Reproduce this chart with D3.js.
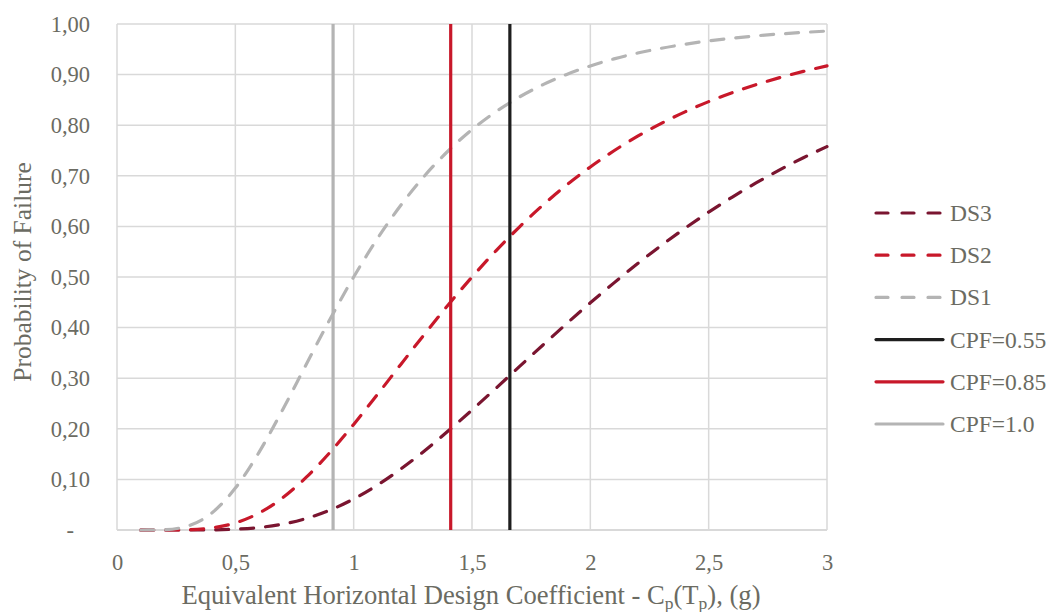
<!DOCTYPE html>
<html><head><meta charset="utf-8">
<script src="https://cdn.jsdelivr.net/npm/d3@7/dist/d3.min.js"></script>
<style>body{margin:0;background:#fff}svg{display:block}</style>
</head><body><svg id="c" width="1049" height="612"></svg>
<script>
const xValues = [0.1,0.2,0.3,0.4,0.5,0.6,0.7,0.8,0.9,1.0,1.1,1.2,1.3,1.4,1.5,1.6,1.7,1.8,1.9,2.0,2.1,2.2,2.3,2.4,2.5,2.6,2.7,2.8,2.9,3.0];
const ds3 = [0,0,0,0.0003,0.0016,0.0049,0.0116,0.0229,0.0394,0.0614,0.0887,0.1208,0.1567,0.1960,0.2372,0.2797,0.3228,0.3657,0.4079,0.4490,0.4884,0.5265,0.5624,0.5964,0.6282,0.6580,0.6859,0.7117,0.7357,0.7578];
const ds2 = [0,0,0.0006,0.0041,0.0140,0.0334,0.0637,0.1044,0.1535,0.2087,0.2676,0.3277,0.3874,0.4451,0.5,0.5513,0.5987,0.6423,0.6819,0.7174,0.7495,0.7782,0.8037,0.8264,0.8466,0.8643,0.8801,0.8940,0.9063,0.9172];
const ds1 = [0,0.0006,0.0080,0.0334,0.0828,0.1535,0.2378,0.3277,0.4165,0.5,0.5756,0.6423,0.7002,0.7495,0.7913,0.8264,0.8557,0.8801,0.9004,0.9172,0.9311,0.9426,0.9521,0.9600,0.9666,0.9720,0.9765,0.9803,0.9834,0.9860];
const cpfNames = ["CPF=0.55","CPF=0.85","CPF=1.0"];
const cpfX = [1.66,1.41,0.913];
const xTicks = [0,0.5,1,1.5,2,2.5,3];
const xTickLabels = ["0","0,5","1","1,5","2","2,5","3"];
const yTicks = [0,0.1,0.2,0.3,0.4,0.5,0.6,0.7,0.8,0.9,1.0];
const yTickLabels = ["-","0,10","0,20","0,30","0,40","0,50","0,60","0,70","0,80","0,90","1,00"];

const FONT = "Liberation Serif";
const TXT = "#6b6b62";
const svg = d3.select("#c");
const x = d3.scaleLinear().domain([0,3]).range([117,827]);
const y = d3.scaleLinear().domain([0,1]).range([530,24]);
const grid = "#d9d9d9";

svg.append("g").selectAll("line").data(yTicks).join("line")
  .attr("x1",x(0)).attr("x2",x(3)).attr("y1",d=>y(d)).attr("y2",d=>y(d))
  .attr("stroke",grid).attr("stroke-width",d=>d===0?2:1.5);
svg.append("g").selectAll("line").data(xTicks).join("line")
  .attr("y1",y(0)).attr("y2",y(1)).attr("x1",d=>x(d)).attr("x2",d=>x(d))
  .attr("stroke",grid).attr("stroke-width",1.5);

const xAxis = d3.axisBottom(x).tickValues(xTicks).tickFormat((d,i)=>xTickLabels[i]).tickSize(0).tickPadding(24);
const gx = svg.append("g").attr("transform",`translate(0,${y(0)})`).call(xAxis)
  .attr("font-family",FONT).attr("font-size",22.5);
gx.select(".domain").remove();
gx.selectAll("text").attr("fill",TXT);
const yAxis = d3.axisLeft(y).tickValues(yTicks).tickFormat((d,i)=>yTickLabels[i]).tickSize(0).tickPadding(27);
const gy = svg.append("g").attr("transform",`translate(${x(0)},0)`).call(yAxis)
  .attr("font-family",FONT).attr("font-size",22.5);
gy.select(".domain").remove();
gy.selectAll("text").attr("fill",TXT);
gy.selectAll(".tick").filter(d=>d===0).select("text").attr("dx",-16);

const series = [
  {name:"DS3", vals:ds3, color:"#7a1530"},
  {name:"DS2", vals:ds2, color:"#c8182a"},
  {name:"DS1", vals:ds1, color:"#b4b4b4"}
];
const line = d3.line().x(d=>x(d[0])).y(d=>y(d[1])).curve(d3.curveMonotoneX);
series.forEach(s=>{
  svg.append("path").datum(xValues.map((v,i)=>[v,s.vals[i]]))
    .attr("d",line).attr("fill","none").attr("stroke",s.color)
    .attr("stroke-width",3.2).attr("stroke-dasharray","13,12").attr("stroke-linecap","round");
});
const cpfColors = ["#1e1e1e","#c8182a","#b4b4b4"];
cpfX.forEach((v,i)=>{
  svg.append("line").attr("x1",x(v)).attr("x2",x(v)).attr("y1",y(0)).attr("y2",y(1))
    .attr("stroke",cpfColors[i]).attr("stroke-width",3.2);
});

svg.append("text").attr("transform","translate(31,272) rotate(-90)").attr("text-anchor","middle")
  .attr("font-family",FONT).attr("fill",TXT).attr("font-size",25.5).text("Probability of Failure");
const xt = svg.append("text").attr("x",471).attr("y",604).attr("text-anchor","middle")
  .attr("font-family",FONT).attr("fill",TXT).attr("font-size",26.6);
xt.append("tspan").text("Equivalent Horizontal Design Coefficient - C");
xt.append("tspan").attr("font-size",17.5).attr("dy",5).text("p");
xt.append("tspan").attr("dy",-5).text("(T");
xt.append("tspan").attr("font-size",17.5).attr("dy",5).text("p");
xt.append("tspan").attr("dy",-5).text("), (g)");

const leg = [
  {name:"DS3",color:"#7a1530",dash:true},
  {name:"DS2",color:"#c8182a",dash:true},
  {name:"DS1",color:"#b4b4b4",dash:true},
  {name:cpfNames[0],color:cpfColors[0],dash:false},
  {name:cpfNames[1],color:cpfColors[1],dash:false},
  {name:cpfNames[2],color:cpfColors[2],dash:false}
];
const lg = svg.append("g").selectAll("g").data(leg).join("g")
  .attr("transform",(d,i)=>`translate(876,${213+i*42.2})`);
lg.append("line").attr("x1",0).attr("x2",67).attr("stroke",d=>d.color).attr("stroke-width",3.2)
  .attr("stroke-dasharray",d=>d.dash?"12,14":null).attr("stroke-linecap","round");
lg.append("text").attr("x",74).attr("y",8).attr("font-family",FONT).attr("fill",TXT)
  .attr("font-size",23.5).text(d=>d.name);
</script></body></html>
